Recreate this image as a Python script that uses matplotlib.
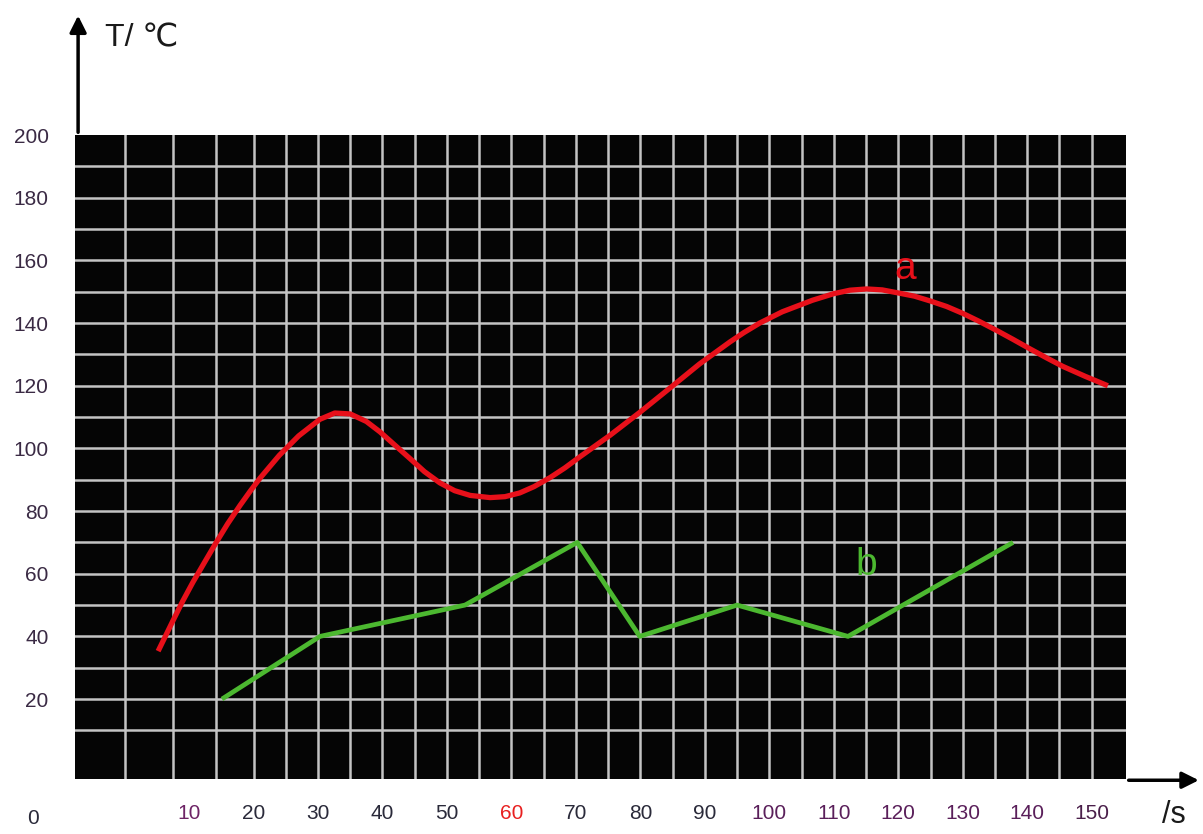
import numpy as np
import matplotlib.pyplot as plt

plt.rcParams['font.family'] = ['Liberation Sans', 'DejaVu Sans']

# 曲线 a (读图取点)
a_t = [5.2, 7.5, 9.0, 10.6, 12.5, 14.3, 16.0, 17.9, 19.5, 21.0, 24.0, 27.0, 30.3, 32.6,
       35.0, 37.5, 39.6, 42.0, 44.3, 46.5, 48.9, 51.2, 53.6, 56.7, 59.0, 61.3, 63.5,
       66.0, 68.3, 70.6, 75.3, 79.9, 84.6, 89.2, 93.9, 96.0, 98.5, 102.0, 106.7, 110.0,
       112.5, 115.1, 117.5, 119.8, 122.5, 124.9, 127.5, 130.0, 132.5, 135.3, 137.8,
       140.4, 143.0, 145.5, 149.0, 152.5]
a_T = [35.3, 45.0, 51.2, 57.3, 64.0, 70.3, 76.0, 81.8, 86.4, 90.5, 97.8, 104.0, 109.3, 111.3,
       111.0, 108.6, 105.3, 100.9, 96.7, 92.6, 89.0, 86.5, 85.0, 84.3, 84.6, 85.8, 87.8,
       90.7, 93.8, 97.3, 104.2, 111.5, 119.3, 127.0, 134.0, 136.9, 140.0, 143.6, 147.3, 149.4,
       150.5, 150.9, 150.6, 149.7, 148.6, 147.1, 145.3, 143.1, 140.6, 137.6, 134.8,
       131.8, 128.9, 126.2, 123.0, 120.0]

# 折线 b
b_t = [15.1, 30.3, 52.8, 70.2, 79.9, 95.0, 112.2, 137.8]
b_T = [20, 40, 50, 70, 40, 50, 40, 70]

x_ticks = [10, 20, 30, 40, 50, 60, 70, 80, 90, 100, 110, 120, 130, 140, 150]
x_colors = ['#6e2466', '#2a2a3a', '#2a2a3a', '#2a2a3a', '#2a2a3a', '#e82020', '#2a2a3a',
            '#2a2a3a', '#2a2a3a', '#5a1f5a', '#5a1f5a', '#5a1f5a', '#5a1f5a', '#5a1f5a', '#4a1f4a']
y_ticks = [20, 40, 60, 80, 100, 120, 140, 160, 180, 200]

# 网格线位置(原图左侧几条不均匀)
grid_x = [0, 7.5, 14.2] + list(range(20, 151, 5))
grid_y = list(range(10, 200, 10))

fig = plt.figure(figsize=(12.03, 8.34), dpi=100)
ax = fig.add_axes([0.0623, 0.066, 0.8736, 0.772])
ax.set_facecolor('#050505')
ax.set_xlim(-7.7, 155.3)
ax.set_ylim(-5.5, 200)

for gx in grid_x:
    ax.axvline(gx, color='#c4c4c4', lw=1.8, zorder=1)
for gy in grid_y:
    ax.axhline(gy, color='#c4c4c4', lw=1.8, zorder=1)

ax.plot(a_t, a_T, color='#e8101a', lw=3.8, solid_capstyle='butt', solid_joinstyle='round', zorder=3)
ax.plot(b_t, b_T, color='#4cb830', lw=3.4, solid_capstyle='butt', zorder=3)

ax.text(121.0, 157.3, 'a', color='#e8101a', fontsize=28, ha='center', va='center')
ax.text(115.0, 62.7, 'b', color='#4cb830', fontsize=28, ha='center', va='center')

for s in ax.spines.values():
    s.set_visible(False)

ax.set_xticks(x_ticks)
ax.set_xticklabels([str(v) for v in x_ticks], fontsize=15)
for lab, c in zip(ax.get_xticklabels(), x_colors):
    lab.set_color(c)
ax.set_yticks(y_ticks)
ax.set_yticklabels([str(v) for v in y_ticks], fontsize=15, color='#3a2a44')
ax.tick_params(axis='x', length=0, pad=18)
ax.tick_params(axis='y', length=0, pad=19)

# 坐标轴箭头
ax.annotate('', xy=(0.003, 1.19), xytext=(0.003, 1.0), xycoords='axes fraction',
            arrowprops=dict(arrowstyle='-|>', lw=2.5, color='black', mutation_scale=25),
            annotation_clip=False)
ax.annotate('', xy=(1.072, -0.002), xytext=(1.0, -0.002), xycoords='axes fraction',
            arrowprops=dict(arrowstyle='-|>', lw=2.5, color='black', mutation_scale=25),
            annotation_clip=False)

fig.text(105 / 1203, 1 - 38 / 834, 'T/ ℃', fontsize=23, color='#1a1a1a', ha='left', va='center')
fig.text(1162 / 1203, 1 - 815 / 834, '/s', fontsize=22, color='#1a1a1a', ha='left', va='center')
fig.text(33 / 1203, 1 - 818 / 834, '0', fontsize=15, color='#2a2a3a', ha='center', va='center')

plt.savefig('out.png', dpi=100)
